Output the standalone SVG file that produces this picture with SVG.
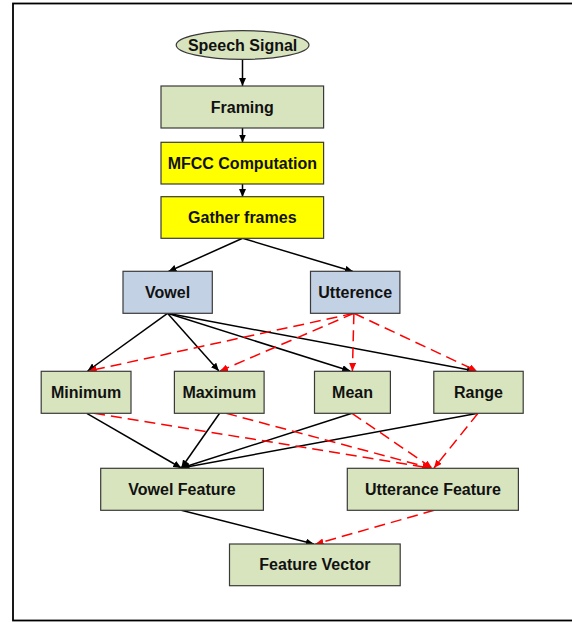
<svg xmlns="http://www.w3.org/2000/svg" width="572" height="622" viewBox="0 0 572 622">
<defs>
<marker id="ab" markerUnits="userSpaceOnUse" markerWidth="8" markerHeight="7" refX="8" refY="3.5" orient="auto"><path d="M0,0 L8,3.5 L0,7 z" fill="#000"/></marker>
<marker id="ar" markerUnits="userSpaceOnUse" markerWidth="8" markerHeight="7" refX="8" refY="3.5" orient="auto"><path d="M0,0 L8,3.5 L0,7 z" fill="#ff0000"/></marker>
</defs>
<style>
.g{fill:#d7e4bd;stroke:#3a3a3a;stroke-width:1.2}
.y{fill:#ffff00;stroke:#3a3a3a;stroke-width:1.2}
.b{fill:#c3d1e4;stroke:#3a3a3a;stroke-width:1.2}
text{font-family:"Liberation Sans",Arial,sans-serif;font-weight:bold;font-size:16px;fill:#111;text-anchor:middle}
.k{stroke:#000;stroke-width:1.5;fill:none;marker-end:url(#ab)}
.r{stroke:#ff0000;stroke-width:1.5;fill:none;stroke-dasharray:11,6;marker-end:url(#ar)}
</style>
<rect x="13" y="3.5" width="575" height="617" fill="#fff" stroke="#000" stroke-width="1.8"/>
<g id="connectors">
<line class="k" x1="242.5" y1="59.3" x2="242.5" y2="86"/>
<line class="k" x1="242.5" y1="128" x2="242.5" y2="142.5"/>
<line class="k" x1="242.5" y1="184" x2="242.5" y2="197"/>
<line class="k" x1="242.6" y1="238.3" x2="168.5" y2="271.5"/>
<line class="k" x1="242.6" y1="238.3" x2="353" y2="271.5"/>
<line class="k" x1="167.5" y1="313.3" x2="87.6" y2="371"/>
<line class="k" x1="167.5" y1="313.3" x2="218.9" y2="371"/>
<line class="k" x1="167.5" y1="313.3" x2="350.2" y2="371"/>
<line class="k" x1="167.5" y1="313.3" x2="475" y2="371"/>
<line class="r" x1="353.9" y1="313.3" x2="88.7" y2="371"/>
<line class="r" x1="353.9" y1="313.3" x2="220" y2="371"/>
<line class="r" x1="353.9" y1="313.3" x2="352.4" y2="371"/>
<line class="r" x1="353.9" y1="313.3" x2="476.8" y2="371"/>
<line class="k" x1="86.8" y1="413.3" x2="181.3" y2="468"/>
<line class="k" x1="219.6" y1="413.3" x2="181.3" y2="468"/>
<line class="k" x1="352" y1="413.3" x2="181.3" y2="468"/>
<line class="k" x1="478" y1="413.3" x2="181.3" y2="468"/>
<line class="r" x1="94.1" y1="413.3" x2="430.5" y2="468"/>
<line class="r" x1="226.2" y1="413.3" x2="430.5" y2="468"/>
<line class="r" x1="352" y1="413.3" x2="432" y2="468"/>
<line class="r" x1="478" y1="413.3" x2="434" y2="468"/>
<line class="k" x1="181.3" y1="510.3" x2="313.8" y2="544"/>
<line class="r" x1="434.1" y1="510.3" x2="315.6" y2="544"/>
</g>
<g id="speech"><ellipse class="g" cx="242.6" cy="45" rx="66.4" ry="14.3"/><text x="242.6" y="50.5">Speech Signal</text></g>
<g id="framing"><rect class="g" x="161" y="86" width="162.6" height="42"/><text x="242.3" y="112.5">Framing</text></g>
<g id="mfcc"><rect class="y" x="161" y="142.3" width="162.6" height="41.7"/><text x="242.3" y="168.7">MFCC Computation</text></g>
<g id="gather"><rect class="y" x="161" y="196.7" width="162.6" height="41.6"/><text x="242.3" y="223">Gather frames</text></g>
<g id="vowel"><rect class="b" x="123" y="271.3" width="89.3" height="42"/><text x="167.6" y="297.8">Vowel</text></g>
<g id="utterence"><rect class="b" x="310.5" y="271.3" width="89.4" height="42"/><text x="355.2" y="297.8">Utterence</text></g>
<g id="minimum"><rect class="g" x="41.2" y="371.3" width="89.8" height="42"/><text x="86.1" y="397.8">Minimum</text></g>
<g id="maximum"><rect class="g" x="174.4" y="371.3" width="89.7" height="42"/><text x="219.3" y="397.8">Maximum</text></g>
<g id="mean"><rect class="g" x="314.5" y="371.3" width="75.9" height="42"/><text x="352.5" y="397.8">Mean</text></g>
<g id="range"><rect class="g" x="433.8" y="371.3" width="89.4" height="42"/><text x="478.5" y="397.8">Range</text></g>
<g id="vowelfeature"><rect class="g" x="100.7" y="468.3" width="162.7" height="42"/><text x="182" y="494.8">Vowel Feature</text></g>
<g id="utterancefeature"><rect class="g" x="347.3" y="468.3" width="171.1" height="42"/><text x="432.9" y="494.8">Utterance Feature</text></g>
<g id="featurevector"><rect class="g" x="229.5" y="544" width="170.7" height="41.7"/><text x="314.9" y="570.4">Feature Vector</text></g>
</svg>
